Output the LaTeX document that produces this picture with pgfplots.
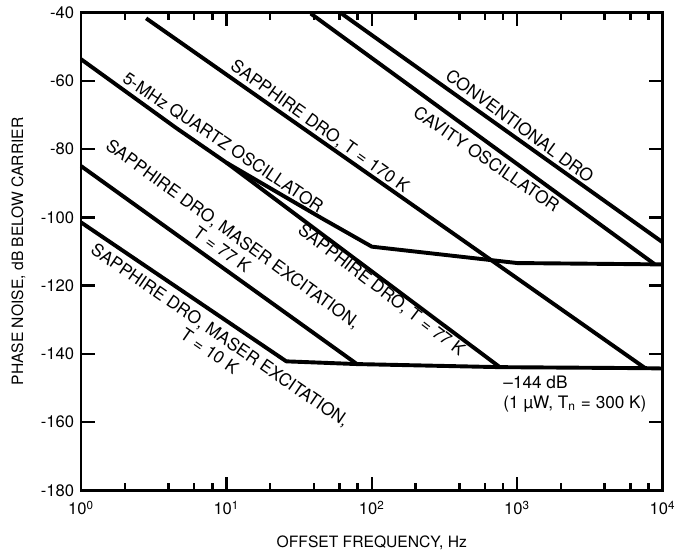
\documentclass[border=0pt]{standalone}
\usepackage{fontspec}
\setmainfont{TeX Gyre Heros}
\usepackage{pgfplots}
\pgfplotsset{compat=1.18}

\newcommand{\lbl}{\fontsize{8.8}{9.8}\selectfont}

\begin{document}
\begin{tikzpicture}
\begin{axis}[
  scale only axis, width=297.5pt, height=244.5pt,
  xmode=log, xmin=1, xmax=10000, ymin=-180, ymax=-40,
  clip=false,
  xtick={1,10,100,1000,10000},
  xticklabels={10\textsuperscript{0},10\textsuperscript{1},10\textsuperscript{2},10\textsuperscript{3},10\textsuperscript{4}},
  minor xtick={2,4,6,8,20,40,60,80,200,400,600,800,2000,4000,6000,8000},
  ytick={-180,-160,-140,-120,-100,-80,-60,-40},
  yticklabels={-180,-160,-140,-120,-100,-80,-60,-40},
  tick label style={font=\fontsize{8.5}{10}\selectfont},
  xticklabel style={yshift=-2pt},
  tick align=inside,
  major tick length=7pt, minor tick length=4pt,
  tick style={black, line width=1.3pt},
  axis line style={line width=1.4pt},
  xlabel={OFFSET FREQUENCY, Hz},
  ylabel={PHASE NOISE, dB BELOW CARRIER},
  every axis x label/.style={at={(axis description cs:0.5,-0.11)}, anchor=center, font=\fontsize{8}{9.6}\selectfont},
  every axis y label/.style={at={(axis description cs:-0.1076,0.5)}, anchor=center, rotate=90, font=\fontsize{8}{9.6}\selectfont},
  curve/.style={black, solid, line width=2pt, line join=round, mark=none},
]
% conventional DRO
\addplot[curve] coordinates {(60.5,-40) (10000,-107.3)};
% cavity oscillator
\addplot[curve] coordinates {(38,-40.3) (8800,-113.7)};
% sapphire DRO, T = 170 K
\addplot[curve] coordinates {(2.8,-41.7) (100,-88) (7600,-144.2)};
% 5-MHz quartz oscillator
\addplot[curve] coordinates {(1,-53.7) (4.5,-73.8) (10,-84) (45.8,-100.4) (100,-108.6) (1000,-113.4) (10000,-113.8)};
% sapphire DRO, T = 77 K
\addplot[curve] coordinates {(10,-84) (760,-143.9)};
% sapphire DRO, maser excitation, T = 77 K
\addplot[curve] coordinates {(1,-85) (79,-143)};
% sapphire DRO, maser excitation, T = 10 K, with the -144 dB floor
\addplot[curve] coordinates {(1,-101.5) (25.8,-142.2) (79,-143) (760,-143.9) (7600,-144.2) (10000,-144.3)};

% tick marks on all four sides (lengths in data units: 7pt = 4 dB = factor 1.242)
\pgfplotsinvokeforeach{1,10,100,1000,10000}{
  \draw[black, line width=1.3pt] (axis cs:#1,-180) -- (axis cs:#1,-176);
  \draw[black, line width=1.3pt] (axis cs:#1,-40) -- (axis cs:#1,-44);
}
\pgfplotsinvokeforeach{2,4,6,8,20,40,60,80,200,400,600,800,2000,4000,6000,8000}{
  \draw[black, line width=1.3pt] (axis cs:#1,-180) -- (axis cs:#1,-177.7);
  \draw[black, line width=1.3pt] (axis cs:#1,-40) -- (axis cs:#1,-42.3);
}
\pgfplotsinvokeforeach{-160,-140,-120,-100,-80,-60}{
  \draw[black, line width=1.3pt] (axis cs:1,#1) -- (axis cs:1.242,#1);
  \draw[black, line width=1.3pt] (axis cs:10000,#1) -- (axis cs:8053,#1);
}

\node[rotate=-35.5, font=\lbl] at (axis cs:43.7,-73.5) {SAPPHIRE DRO, T = 170 K};
\node[rotate=-33.8, font=\lbl] at (axis cs:9.5,-78.1) {5-MHz QUARTZ OSCILLATOR};
\node[rotate=-36, font=\lbl, align=center] at (axis cs:10.2,-107.1) {SAPPHIRE DRO, MASER EXCITATION,\\T = 77 K};
\node[rotate=-37.4, font=\lbl] at (axis cs:116,-121.4) {SAPPHIRE DRO, T = 77 K};
\node[rotate=-34.5, font=\lbl, align=center] at (axis cs:8.34,-136.8) {SAPPHIRE DRO, MASER EXCITATION,\\T = 10 K};
\node[rotate=-36.3, font=\lbl] at (axis cs:1043,-73.2) {CONVENTIONAL DRO};
\node[rotate=-34.5, font=\lbl] at (axis cs:617,-82.9) {CAVITY OSCILLATOR};
\node[anchor=north west, align=left, inner sep=0pt, font=\lbl] at (axis cs:800,-146.5) {--144 dB\\(1 µW, T\textsubscript{n} = 300 K)};

\path (rel axis cs:-0.1395,-0.139) rectangle (rel axis cs:1.0067,1.0245);
\end{axis}
\end{tikzpicture}
\end{document}
